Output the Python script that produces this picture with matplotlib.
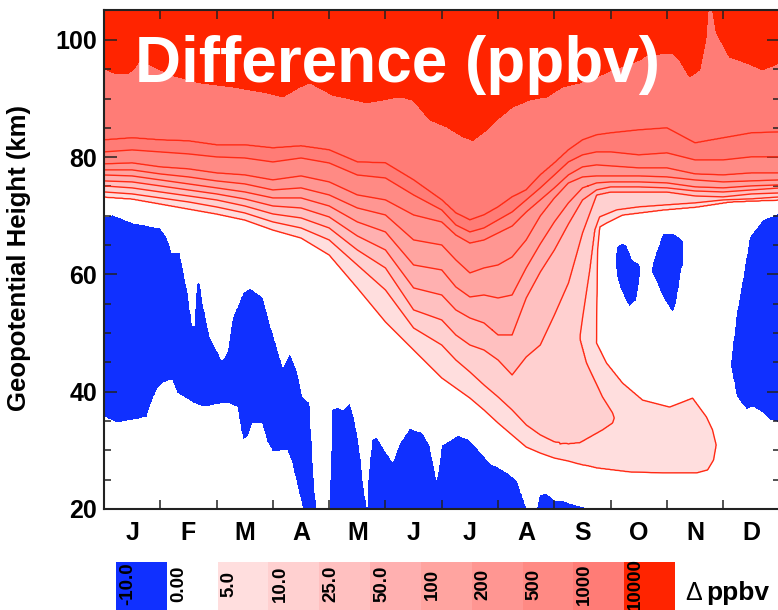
import numpy as np
import matplotlib
matplotlib.use('Agg')
import matplotlib.pyplot as plt
from matplotlib import transforms

plt.rcParams['font.family'] = ['Liberation Sans', 'DejaVu Sans']
plt.rcParams['font.weight'] = 'bold'

# ---------------- data ----------------
months = ['J', 'F', 'M', 'A', 'M', 'J', 'J', 'A', 'S', 'O', 'N', 'D']
cbar_labels = ['-10.0', '0.00', '5.0', '10.0', '25.0', '50.0', '100', '200', '500', '1000', '10000']

# heights (km) of contour levels versus time (months since Jan 1)
t_main = [0, 0.5, 1, 1.5, 2, 2.5, 3, 3.5, 4, 4.5, 5, 5.5, 6, 6.25, 6.5, 6.75, 7, 7.25, 7.5, 7.75,
          8, 8.25, 8.5, 8.75, 9, 9.5, 10, 10.5, 11, 11.5, 12]
z_2000 = [82.94, 83.29, 82.94, 82.77, 82.09, 82.09, 81.58, 81.92, 81.24, 79.19, 79.02, 76.12, 72.71, 70.49,
          69.30, 70.15, 71.51, 73.22, 74.41, 76.97, 79.02, 81.24, 82.94, 83.80, 84.14, 84.65, 84.99, 82.43,
          83.29, 84.14, 84.31]
z_1000 = [80.90, 81.24, 80.90, 80.56, 80.05, 79.87, 79.19, 79.87, 79.02, 76.97, 76.46, 73.56, 71.00, 68.44,
          67.25, 67.93, 69.30, 70.66, 72.71, 74.76, 76.97, 79.19, 80.39, 80.90, 80.90, 80.39, 80.73, 79.53,
          79.53, 80.05, 80.05]
z_500 = [78.85, 79.02, 78.34, 78.00, 77.31, 76.97, 76.12, 76.80, 75.78, 73.56, 72.71, 70.15, 68.96, 66.74,
         65.37, 65.89, 67.08, 68.27, 70.66, 72.71, 74.76, 76.97, 78.34, 78.68, 78.51, 78.17, 78.17, 77.14,
         76.97, 77.31, 77.31]
z_200 = [77.83, 77.83, 77.14, 76.63, 75.95, 75.44, 74.41, 74.76, 73.56, 71.34, 70.15, 65.89, 65.03, 62.48,
         60.26, 61.11, 61.62, 62.99, 65.89, 69.98, 73.05, 75.61, 76.63, 76.80, 76.80, 76.80, 76.63, 76.12,
         75.78, 75.95, 76.12]
z_100 = [76.97, 76.80, 76.12, 75.44, 74.76, 74.07, 73.05, 73.05, 71.68, 68.96, 67.25, 61.62, 60.77, 57.87,
         56.16, 56.50, 55.99, 56.50, 61.11, 65.20, 68.96, 72.20, 74.76, 75.61, 75.78, 75.78, 75.61, 74.93,
         74.76, 75.10, 75.27]
z_50 = [75.95, 75.78, 75.10, 74.41, 73.73, 72.88, 71.68, 71.34, 69.81, 66.57, 64.18, 57.70, 56.50, 53.95,
        52.58, 51.73, 49.68, 49.68, 55.99, 60.43, 64.18, 68.62, 72.71, 74.41, 74.93, 74.93, 74.76, 74.24,
        74.07, 74.41, 74.76]
z_25 = [75.10, 74.76, 74.07, 73.39, 72.71, 71.68, 70.32, 69.64, 67.93, 64.18, 61.11, 53.95, 52.24, 49.68,
        47.97, 47.12, 45.42, 42.86, 45.93, 47.97, 53.09, 58.55, 67.08, 73.56, 74.07, 74.07, 74.07, 73.39,
        73.22, 73.73, 73.90]
t_10 = [0, 0.5, 1, 1.5, 2, 2.5, 3, 3.5, 4, 4.5, 5, 5.5, 6, 6.25, 6.5, 6.75, 7, 7.25, 7.5, 7.75, 8, 8.25,
        8.415, 8.459, 8.503, 8.628, 8.716, 8.805, 9.107, 9.5, 10, 10.5, 11, 11.5, 12]
z_10 = [74.07, 73.73, 73.05, 72.37, 71.51, 70.49, 68.96, 67.93, 65.89, 61.62, 57.36, 50.87, 47.97, 45.42,
        43.37, 41.15, 39.11, 36.89, 34.33, 32.62, 31.43, 31.09, 31.26, 49.68, 52.75, 60.77, 67.59, 69.81,
        71.00, 71.51, 71.86, 72.20, 72.71, 72.88, 73.22]
t_5 = [0, 0.5, 1, 1.5, 2, 2.5, 3, 3.5, 4, 4.5, 5, 5.5, 6, 6.25, 6.5, 6.75, 7, 7.25, 7.5, 7.75, 8, 8.25,
       8.5, 8.724, 8.769, 8.805, 8.929, 9.213, 9.5, 9.925, 10.529, 11.114, 11.5, 12]
z_5 = [73.22, 72.88, 72.03, 71.17, 70.32, 69.30, 67.59, 66.23, 63.33, 57.70, 51.90, 47.12, 42.35, 40.64,
       38.93, 36.89, 34.67, 32.62, 30.58, 29.55, 28.70, 28.19, 27.51, 27.16, 64.18, 68.10, 68.79, 70.15,
       70.49, 71.00, 71.51, 72.37, 72.54, 72.71]
# lower edge of the >10000 ppbv region
t_10000 = [0, 0.16, 0.408, 0.515, 0.639, 1.2, 1.704, 2.29, 2.894, 3.178, 3.479, 3.657, 4.065, 4.669, 4.953,
           5.255, 5.486, 5.787, 6.089, 6.373, 6.551, 6.799, 6.977, 7.261, 7.563, 7.864, 8.148, 8.45, 8.752,
           9.036, 9.515, 9.639, 10.1, 10.225, 10.403, 10.581, 10.687, 10.74, 10.794, 10.883, 11.114, 11.415,
           11.699, 12.0]
z_10000 = [95.2, 94.4, 94.2, 94.9, 96.6, 94.0, 92.7, 92.0, 91.0, 90.3, 92.0, 92.7, 90.6, 89.3, 89.8, 90.3,
           89.8, 86.4, 85.2, 83.5, 82.9, 84.7, 86.4, 88.6, 89.8, 90.3, 92.0, 92.7, 93.7, 94.9, 96.6, 97.4,
           97.8, 96.6, 93.7, 94.9, 100.0, 106.0, 106.0, 101.2, 97.1, 96.1, 94.9, 96.1]

# autumn tongue (5 and 10 ppbv), lower and upper edges
t_tongue5_lo = [8.095, 8.752, 9.338, 9.923, 10.527, 10.723, 10.829, 10.873]
z_tongue5_lo = [28.53, 26.99, 26.31, 26.14, 26.14, 26.65, 28.36, 30.92]
t_tongue5_hi = [8.095, 8.628, 8.752, 8.929, 9.213, 9.568, 10.048, 10.278, 10.456, 10.704, 10.811, 10.873]
z_tongue5_hi = [50.53, 49.68, 48.32, 44.90, 41.49, 38.59, 37.40, 38.25, 38.93, 35.69, 33.48, 30.92]
t_tongue10_lo = [8.095, 8.45, 8.858, 9.036, 9.063]
z_tongue10_lo = [31.09, 31.26, 33.48, 34.67, 35.52]
t_tongue10_hi = [8.095, 8.362, 8.45, 8.575, 8.858, 9.036, 9.063]
z_tongue10_hi = [52.24, 51.39, 49.34, 44.90, 39.11, 36.38, 35.52]

# negative-difference (blue) regions: upper and lower edges
neg_winter_top_t = [0, 0.16, 0.515, 0.994, 1.118, 1.207, 1.349, 1.491, 1.562, 1.598, 1.651, 1.704, 1.757,
                    1.882, 2.095, 2.184, 2.29, 2.468, 2.592, 2.823, 2.947, 3.178, 3.302, 3.426, 3.533, 3.657,
                    3.71, 3.781]
neg_winter_top_z = [69.81, 70.15, 68.79, 67.93, 66.40, 63.67, 63.67, 56.85, 51.73, 51.05, 58.55, 58.55, 55.14,
                    49.34, 45.42, 46.61, 52.75, 56.85, 57.70, 56.16, 51.73, 44.22, 46.61, 43.71, 39.11, 38.08,
                    27.85, 19.0]
neg_winter_bot_t = [0, 0.231, 0.515, 0.763, 0.817, 0.941, 1.047, 1.207, 1.296, 1.580, 1.757, 2.184, 2.361,
                    2.414, 2.468, 2.556, 2.645, 2.805, 2.894, 3.0, 3.249, 3.337, 3.479, 3.568, 3.781]
neg_winter_bot_z = [35.69, 34.67, 35.18, 35.69, 37.40, 40.30, 41.49, 42.0, 39.79, 38.08, 37.40, 38.08, 37.40,
                    34.67, 31.77, 32.28, 34.67, 34.67, 31.43, 29.72, 30.06, 27.85, 22.05, 18.5, 18.5]
neg_summer_top_t = [4.0, 4.03, 4.048, 4.136, 4.243, 4.367, 4.456, 4.545, 4.598, 4.678, 4.69, 4.758, 4.846,
                    4.953, 5.131, 5.255, 5.432, 5.663, 5.787, 5.912, 6.0, 6.284, 6.497, 6.852, 7.154, 7.332,
                    7.509, 7.545]
neg_summer_top_z = [15, 30, 36.9, 37.4, 36.9, 38.1, 35.2, 30.1, 25.0, 19.8, 25.0, 31.8, 32.3, 30.6, 28.0,
                    31.3, 33.8, 33.0, 30.9, 25.0, 30.9, 32.6, 31.8, 27.9, 26.3, 25.0, 20.2, 15]
neg_summer_bot_t = [4.0, 7.545]
neg_summer_bot_z = [15, 15]
neg_aug_top_t = [7.66, 7.687, 7.74, 7.864, 8.006, 8.148, 8.273, 8.575, 8.65]
neg_aug_top_z = [15, 20.3, 22.4, 22.7, 21.5, 21.5, 21.0, 20.2, 15]
neg_aug_bot_t = [7.66, 8.65]
neg_aug_bot_z = [15, 15]
neg_octA_top_t = [9.09, 9.107, 9.20, 9.285, 9.391, 9.515, 9.533]
neg_octA_top_z = [62.5, 64.7, 65.4, 65.0, 62.5, 61.8, 60.5]
neg_octA_bot_t = [9.09, 9.107, 9.16, 9.285, 9.338, 9.462, 9.515, 9.533]
neg_octA_bot_z = [62.5, 59.6, 57.9, 55.1, 54.5, 55.6, 59.0, 60.5]
neg_octB_top_t = [9.728, 9.746, 9.817, 9.87, 9.923, 10.1, 10.17, 10.28, 10.3]
neg_octB_top_z = [60.5, 62.0, 64.0, 65.4, 67.1, 67.0, 66.7, 65.9, 62.0]
neg_octB_bot_t = [9.728, 9.746, 9.817, 9.923, 10.1, 10.17, 10.26, 10.3]
neg_octB_bot_z = [60.5, 60.0, 58.6, 56.2, 53.4, 55.1, 60.8, 62.0]
neg_dec_top_t = [11.13, 11.166, 11.237, 11.344, 11.468, 11.699, 12.0]
neg_dec_top_z = [44.6, 47.6, 53.4, 59.1, 66.4, 69.3, 70.5]
neg_dec_bot_t = [11.13, 11.237, 11.415, 11.521, 11.699, 11.823, 12.0]
neg_dec_bot_z = [44.6, 39.1, 36.9, 37.4, 36.4, 35.2, 34.7]

# ---------------- build gridded field (band index) ----------------
tg = np.linspace(0, 12, 1201)
zg = np.linspace(20, 105.3, 854)
TT, ZZ = np.meshgrid(tg, zg)

level_curves = [(t_5, z_5), (t_10, z_10), (t_main, z_25), (t_main, z_50), (t_main, z_100),
                (t_main, z_200), (t_main, z_500), (t_main, z_1000), (t_main, z_2000), (t_10000, z_10000)]
H = np.vstack([np.interp(tg, t, z) for t, z in level_curves])
for k in range(1, H.shape[0]):
    H[k] = np.maximum(H[k], H[k - 1] + 0.05)

U = np.empty_like(ZZ)
fp = np.concatenate([[0.3], np.arange(1, 11), [11.5]])
for j in range(tg.size):
    xp = np.concatenate([[H[0, j] - 4.0], H[:, j], [H[-1, j] + 4.0]])
    U[:, j] = np.interp(zg, xp, fp)


def edge_band(tlo, zlo, thi, zhi):
    t0 = max(min(tlo), min(thi))
    t1 = min(max(tlo), max(thi))
    valid = (tg >= t0) & (tg <= t1)
    lo = np.interp(tg, tlo, zlo)
    hi = np.interp(tg, thi, zhi)
    return valid, lo, hi


def tongue(tlo, zlo, thi, zhi, base, peak, decay):
    valid, lo, hi = edge_band(tlo, zlo, thi, zhi)
    d = np.minimum(ZZ - lo, hi - ZZ)
    half = np.maximum((hi - lo) / 2.0, 1e-3)
    val = np.where(d > 0, base + peak * d / half, base + d / decay)
    return np.where(valid[None, :], val, -np.inf)


T5 = tongue(t_tongue5_lo, z_tongue5_lo, t_tongue5_hi, z_tongue5_hi, 1.0, 0.5, 4.0)
T10 = tongue(t_tongue10_lo, z_tongue10_lo, t_tongue10_hi, z_tongue10_hi, 2.0, 0.4, 1.5)
S = np.maximum(U, np.maximum(T5, T10))
S = np.clip(S, 0.3, 11.5)

neg_regions = [
    (neg_winter_bot_t, neg_winter_bot_z, neg_winter_top_t, neg_winter_top_z),
    (neg_summer_bot_t, neg_summer_bot_z, neg_summer_top_t, neg_summer_top_z),
    (neg_aug_bot_t, neg_aug_bot_z, neg_aug_top_t, neg_aug_top_z),
    (neg_octA_bot_t, neg_octA_bot_z, neg_octA_top_t, neg_octA_top_z),
    (neg_octB_bot_t, neg_octB_bot_z, neg_octB_top_t, neg_octB_top_z),
    (neg_dec_bot_t, neg_dec_bot_z, neg_dec_top_t, neg_dec_top_z),
]
for tlo, zlo, thi, zhi in neg_regions:
    valid, lo, hi = edge_band(tlo, zlo, thi, zhi)
    inside = valid[None, :] & (ZZ > lo[None, :]) & (ZZ < hi[None, :]) & (S < 1)
    S[inside] = -0.5

# ---------------- styling ----------------
levels = [-1, 0, 1, 2, 3, 4, 5, 6, 7, 8, 10, 12]
fill_colors = ['#1030ff', '#ffffff', '#ffdede', '#ffd0d0', '#ffc0c0', '#ffb0b0',
               '#ffa4a0', '#ff9692', '#ff8a84', '#ff7c76', '#ff2400']
line_levels = [1, 2, 3, 4, 5, 6, 7, 8, 9]
line_color = '#ff2a14'

fig = plt.figure(figsize=(7.78, 6.10), dpi=100)
W, Hpx = 778.0, 610.0
ax = fig.add_axes([104 / W, 101 / Hpx, 675.5 / W, 499 / Hpx])

cf = ax.contourf(tg, zg, S, levels=levels, colors=fill_colors)
ax.contour(tg, zg, S, levels=line_levels, colors=line_color, linewidths=1.0)

ax.set_xlim(0, 12)
ax.set_ylim(20, 105.1)
ax.set_xticks(np.arange(12) + 0.5)
ax.set_xticklabels(months)
ax.set_xticks(np.arange(0, 13), minor=True)
ax.tick_params(axis='x', which='major', length=0, pad=9, labelsize=18)
ax.tick_params(axis='x', which='minor', direction='in', length=6.5, width=1.1,
               top=True, bottom=True, color='#222222')
ax.set_yticks([20, 40, 60, 80, 100])
ax.set_yticks(np.arange(25, 105, 5), minor=True)
ax.tick_params(axis='y', which='major', direction='in', length=9.4, width=1.1,
               left=True, right=True, labelsize=18, pad=5, color='#222222')
ax.tick_params(axis='y', which='minor', direction='in', length=5, width=1.1,
               left=True, right=True, color='#222222')
for sp in ax.spines.values():
    sp.set_linewidth(1.5)
    sp.set_color('#222222')

fig.text(19 / W, 1 - 258 / Hpx, 'Geopotential Height (km)', rotation=90,
         ha='center', va='center', fontsize=18.5, fontweight='bold')

fig.text(135 / W, 1 - 82 / Hpx, 'Difference (ppbv)', color='white', fontsize=46,
         fontweight='bold', ha='left', va='baseline')

# colour bar
cax = fig.add_axes([116 / W, -2 / Hpx, 559 / W, 50 / Hpx])
cb = fig.colorbar(cf, cax=cax, orientation='horizontal', spacing='uniform', ticks=[])
cb.outline.set_visible(False)
cax.tick_params(length=0)
bounds = [-1, 0, 1, 2, 3, 4, 5, 6, 7, 8, 10]
trans = transforms.blended_transform_factory(cax.transData, fig.transFigure)
trans = transforms.offset_copy(trans, fig=fig, x=3, y=0, units='dots')
for b, lab in zip(bounds, cbar_labels):
    cax.text(b, 1 - 584 / Hpx, lab, transform=trans, rotation=90, ha='left', va='center',
             fontsize=13.5, fontweight='bold', color='black')

fig.text(685 / W, 1 - 600 / Hpx, '\u0394', fontsize=18, fontweight='normal', ha='left', va='baseline')
fig.text(706 / W, 1 - 600 / Hpx, 'ppbv', fontsize=19, fontweight='bold', ha='left', va='baseline')

fig.savefig('out.png', dpi=100)
